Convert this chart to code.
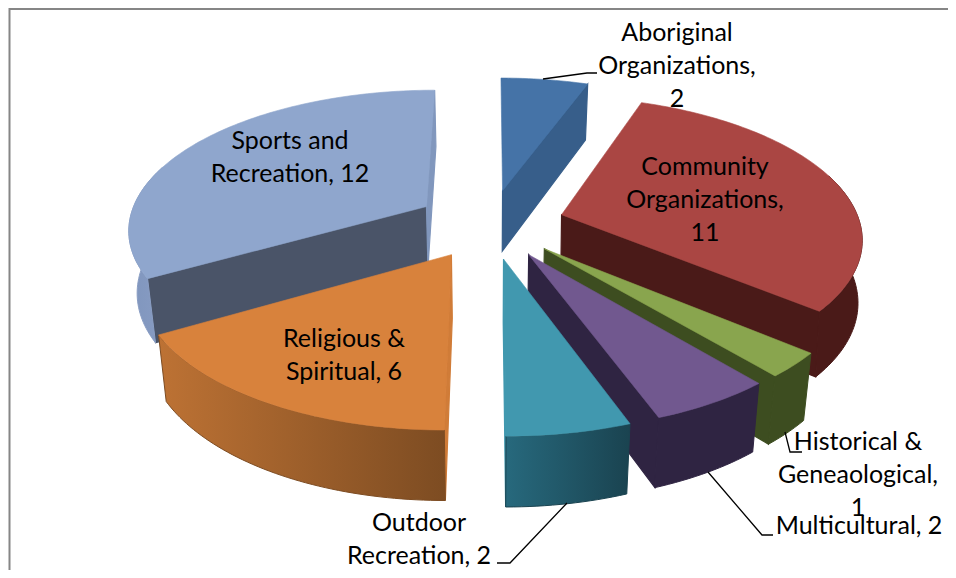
import numpy as np, pandas as pd, altair as alt

# ---- chart data ----
categories = ["Aboriginal Organizations", "Community Organizations", "Historical & Geneaological",
              "Multicultural", "Outdoor Recreation", "Religious & Spiritual", "Sports and Recreation"]
values = [2, 11, 1, 2, 2, 6, 12]
label_lines = [["Aboriginal", "Organizations,"], ["Community", "Organizations,"], ["Historical &", "Geneaological,"],
               ["Multicultural,"], ["Outdoor", "Recreation,"], ["Religious &", "Spiritual,"], ["Sports and", "Recreation,"]]
value_on_own_line = [True, True, True, False, False, False, False]

# ---- style / layout ----
top_colors = ["#4573a7", "#aa4643", "#89a54e", "#71588f", "#4198af", "#d8823c", "#8fa6cd"]
start_colors = [None, None, None, None, None, "#d07c38", "#4a5468"]
end_colors = ["#375e8a", "#4a1a18", "#3d4d20", "#2f2442", "#4198af", None, "#8197bd"]
wall_stops = [("#375e8a", "#375e8a"), ("#4a1a18", "#4a1a18"), ("#3d4d20", "#3d4d20"), ("#2f2442", "#2f2442"),
              ("#27697d", "#1a4350"), ("#bd7234", "#7d4c22"), ("#7f95bd", "#8a9ec4")]
paint_order = [6, 0, 1, 2, 3, 4, 5]
label_pos = [(677, 33), (705, 167), (858, 442), (859, 526), (419, 523), (344, 339), (290, 141)]
leaders = [[(543, 79), (587, 73), (597, 73)], [], [(785, 432), (790, 452), (802, 452)],
           [(708, 472), (762, 535), (773, 535)], [(567, 503), (510, 563), (497, 563)], [], []]
W, H = 940, 562
CX, K, E = 490.04, 0.1501, 0.2506
TOP = dict(cy=223.61, a=298.40, b=138.59)
BOT = dict(cy=285.5, a=291.5, b=144.4)
BOT_WIDE = dict(cy=285.5, a=295.0, b=144.4)   # the right-hand wedge's wall hardly narrows
bottom_planes = [BOT, BOT_WIDE, BOT, BOT, BOT, BOT, BOT]

# ---- scene from the values ----
xs = alt.Scale(domain=[8, 8 + W], range=[0, W])
ys = alt.Scale(domain=[8, 8 + H], range=[0, H])
edges = np.cumsum([0] + values) * 2 * np.pi / sum(values)


def pt(X, Y, plane):
    w = 1 + K * Y
    return CX + plane["a"] * X / w, plane["cy"] - plane["b"] * Y / w


def wedge(i, th, plane):
    m = (edges[i] + edges[i + 1]) / 2
    ax, ay = E * np.sin(m), E * np.cos(m)
    return pt(ax + np.sin(th), ay + np.cos(th), plane)


def apex(i, plane):
    m = (edges[i] + edges[i + 1]) / 2
    return pt(E * np.sin(m), E * np.cos(m), plane)


def poly(points, fill, stroke=None, sw=0.6):
    df = pd.DataFrame(points, columns=["x", "y"])
    df["i"] = range(len(df))
    stroke = stroke or fill
    mk = alt.Chart(df).mark_line(interpolate="linear-closed", fill=fill, stroke=stroke, strokeWidth=sw)
    return mk.encode(x=alt.X("x:Q", scale=xs, axis=None), y=alt.Y("y:Q", scale=ys, axis=None), order="i:Q")


layers = []
for i in paint_order:
    t0, t1 = edges[i], edges[i + 1]
    bot = bottom_planes[i]
    arc = np.linspace(t0, t1, max(3, int((t1 - t0) / 0.02)))
    # radial faces that can be seen
    for th, col in ((t0, start_colors[i]), (t1, end_colors[i])):
        if col:
            layers.append(poly([apex(i, TOP), wedge(i, th, TOP), wedge(i, th, bot), apex(i, bot)], col, sw=1.2))
    # outer wall, only the part facing the viewer
    front = arc[(arc > np.radians(72)) & (arc < np.radians(288))]
    if len(front) > 1:
        tp = [wedge(i, th, TOP) for th in front]
        bt = [wedge(i, th, bot) for th in front]
        c0, c1 = wall_stops[i]
        fill = c0 if c0 == c1 else alt.LinearGradient(
            gradient="linear",
            stops=[alt.GradientStop(color=c0, offset=0), alt.GradientStop(color=c1, offset=1)],
            x1=0, x2=1, y1=0, y2=0)
        layers.append(poly(tp + bt[::-1], fill, stroke=c0 if c0 == c1 else c1, sw=1.0))
    # top face
    layers.append(poly([apex(i, TOP)] + [wedge(i, th, TOP) for th in arc], top_colors[i]))

# frame
frame = pd.DataFrame({"x": [9.5, 9.5, 8 + W], "y": [8 + H, 9, 9], "i": [0, 1, 2]})
layers.insert(0, alt.Chart(frame).mark_line(color="#868686", strokeWidth=2).encode(
    x=alt.X("x:Q", scale=xs, axis=None), y=alt.Y("y:Q", scale=ys, axis=None), order="i:Q"))

# leader lines
for pts in leaders:
    if pts:
        d = pd.DataFrame(pts, columns=["x", "y"])
        d["i"] = range(len(d))
        layers.append(alt.Chart(d).mark_line(color="#000000", strokeWidth=1.3).encode(
            x=alt.X("x:Q", scale=xs, axis=None), y=alt.Y("y:Q", scale=ys, axis=None), order="i:Q"))

# labels
rows = []
for lines, v, own, (x, y) in zip(label_lines, values, value_on_own_line, label_pos):
    text = list(lines)
    if own:
        text.append(str(v))
    else:
        text[-1] = f"{text[-1]} {v}"
    rows.append({"x": x, "y": y, "t": "\n".join(text)})
layers.append(alt.Chart(pd.DataFrame(rows)).mark_text(
    font="Lato", fontSize=25, lineBreak="\n", lineHeight=33, align="center", baseline="middle", color="#000000"
).encode(x=alt.X("x:Q", scale=xs, axis=None), y=alt.Y("y:Q", scale=ys, axis=None), text="t:N"))

chart = alt.layer(*layers).properties(width=W, height=H, padding=0, background="#ffffff",
                                      autosize=alt.AutoSizeParams(type="none")).configure_view(stroke=None)
chart.save("out.html", embed_options={"renderer": "svg", "actions": False})
